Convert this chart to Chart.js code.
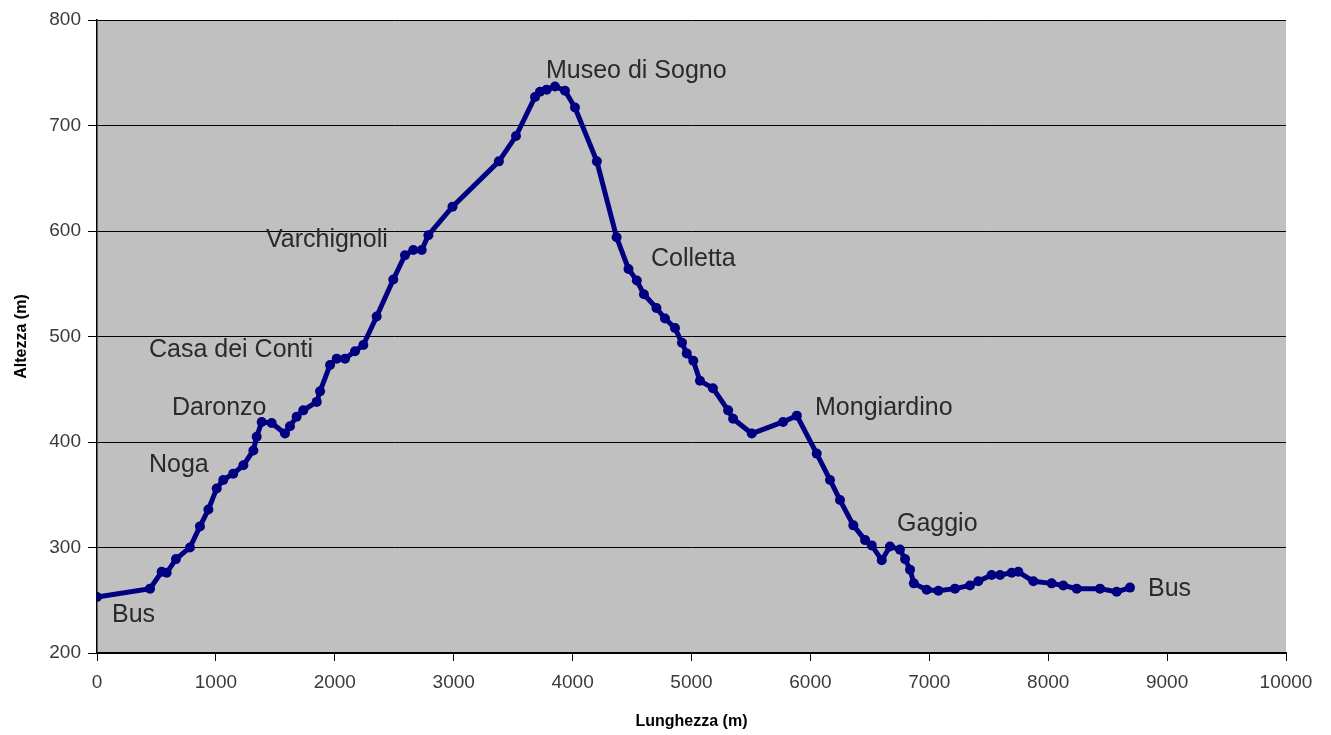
<!DOCTYPE html>
<html lang="it">
<head>
<meta charset="UTF-8">
<script src="https://cdn.jsdelivr.net/npm/chart.js"></script>
<title>Profilo altimetrico</title>
<style>
  html, body { margin: 0; padding: 0; background: #ffffff; }
  #wrap { width: 1331px; height: 735px; }
</style>
</head>
<body>
<div id="wrap"><canvas id="grafico"></canvas></div>
<script>
var lunghezza = [0, 446, 544, 586, 664, 782, 866, 937, 1007, 1062, 1146, 1231, 1315, 1343, 1385, 1469, 1581, 1623, 1679, 1735,
  1848, 1876, 1960, 2016, 2086, 2170, 2240, 2352, 2492, 2590, 2660, 2731, 2787, 2990, 3380, 3524, 3684, 3726, 3782, 3852,
  3936, 4020, 4204, 4370, 4470, 4540, 4600, 4705, 4777, 4861, 4920, 4960, 5015, 5071, 5180, 5308, 5350, 5507, 5770, 5886,
  6053, 6165, 6249, 6361, 6460, 6516, 6600, 6669, 6753, 6796, 6838, 6870, 6978, 7076, 7216, 7342, 7412, 7524, 7595, 7693,
  7749, 7875, 8029, 8127, 8240, 8436, 8576, 8688];
var altezza = [253, 261, 277, 276, 289, 300, 320, 336, 356, 364, 370, 378, 392, 405, 419, 418, 408, 415, 424, 430,
  438, 448, 473, 479, 479, 486, 492, 519, 554, 577, 582, 582, 596, 623, 666, 690, 727, 732, 734, 737,
  733, 717, 666, 594, 564, 553, 540, 527, 517, 508, 494, 484, 477, 458, 451, 430, 422, 408, 419, 425,
  389, 364, 345, 321, 307, 302, 288, 301, 298, 289, 279, 266, 260, 259, 261, 264, 268, 274, 274, 276,
  277, 268, 266, 264, 261, 261, 258, 262];

// nomi delle località e dove sono scritti (in metri)
var localita = ['Bus', 'Noga', 'Daronzo', 'Casa dei Conti', 'Varchignoli', 'Museo di Sogno', 'Colletta', 'Mongiardino', 'Gaggio', 'Bus'];
var localitaX = [126, 437, 631, 437, 1421, 3776, 4659, 6039, 6728, 8839];
var localitaY = [236, 378, 432, 487, 591, 752, 573, 432, 322, 261];

var xTicks = [0, 1000, 2000, 3000, 4000, 5000, 6000, 7000, 8000, 9000, 10000];
var yTicks = [200, 300, 400, 500, 600, 700, 800];

var punti = [];
for (var i = 0; i < lunghezza.length; i++) {
  punti.push({ x: lunghezza[i], y: altezza[i] });
}

var FONT = '"Liberation Sans", Arial, sans-serif';

// sfondo grigio dell'area del grafico
var sfondo = {
  id: 'sfondo',
  beforeDraw: function (chart) {
    var a = chart.chartArea;
    var ctx = chart.ctx;
    ctx.save();
    ctx.fillStyle = '#c0c0c0';
    ctx.fillRect(a.left, a.top, a.right - a.left, a.bottom - a.top);
    ctx.restore();
  }
};

// etichette delle località
var etichette = {
  id: 'etichette',
  afterDatasetsDraw: function (chart) {
    var ctx = chart.ctx;
    var sx = chart.scales.x, sy = chart.scales.y;
    ctx.save();
    ctx.font = '25px ' + FONT;
    ctx.fillStyle = '#2a2a2a';
    ctx.textAlign = 'left';
    ctx.textBaseline = 'middle';
    for (var i = 0; i < localita.length; i++) {
      ctx.fillText(localita[i], sx.getPixelForValue(localitaX[i]), sy.getPixelForValue(localitaY[i]));
    }
    ctx.restore();
  }
};

new Chart(document.getElementById('grafico'), {
  type: 'scatter',
  data: {
    datasets: [{
      data: punti,
      showLine: true,
      borderColor: '#000080',
      backgroundColor: '#000080',
      borderWidth: 5,
      pointRadius: 5,
      pointBorderWidth: 0,
      tension: 0
    }]
  },
  options: {
    responsive: true,
    maintainAspectRatio: false,
    animation: false,
    layout: { padding: { top: 20, right: 45, left: 0, bottom: 0 } },
    plugins: {
      legend: { display: false },
      tooltip: { enabled: false }
    },
    scales: {
      x: {
        type: 'linear',
        min: 0,
        max: 10000,
        afterBuildTicks: function (s) { s.ticks = xTicks.map(function (v) { return { value: v }; }); },
        afterFit: function (s) { s.height = 82; },
        grid: { drawOnChartArea: false, drawTicks: true, tickLength: 8, tickColor: '#000000' },
        border: { display: true, color: '#000000', width: 1.5 },
        ticks: {
          color: '#3a3a3a',
          font: { family: FONT, size: 19 },
          padding: 10,
          maxRotation: 0,
          callback: function (v) { return String(v); }
        },
        title: {
          display: true,
          text: 'Lunghezza (m)',
          color: '#000000',
          font: { family: FONT, size: 16, weight: 'bold' },
          padding: { top: 4, bottom: 4 }
        }
      },
      y: {
        type: 'linear',
        min: 200,
        max: 800,
        afterBuildTicks: function (s) { s.ticks = yTicks.map(function (v) { return { value: v }; }); },
        afterFit: function (s) { s.width = 97; },
        grid: {
          color: '#000000',
          lineWidth: 1,
          tickColor: '#000000',
          tickLength: 9
        },
        border: { display: true, color: '#000000', width: 1.5 },
        ticks: {
          color: '#3a3a3a',
          font: { family: FONT, size: 19 },
          padding: 7
        },
        title: {
          display: true,
          text: 'Altezza (m)',
          color: '#000000',
          font: { family: FONT, size: 16, weight: 'bold' },
          padding: { top: 12, bottom: 4 }
        }
      }
    }
  },
  plugins: [sfondo, etichette]
});
</script>
</body>
</html>
